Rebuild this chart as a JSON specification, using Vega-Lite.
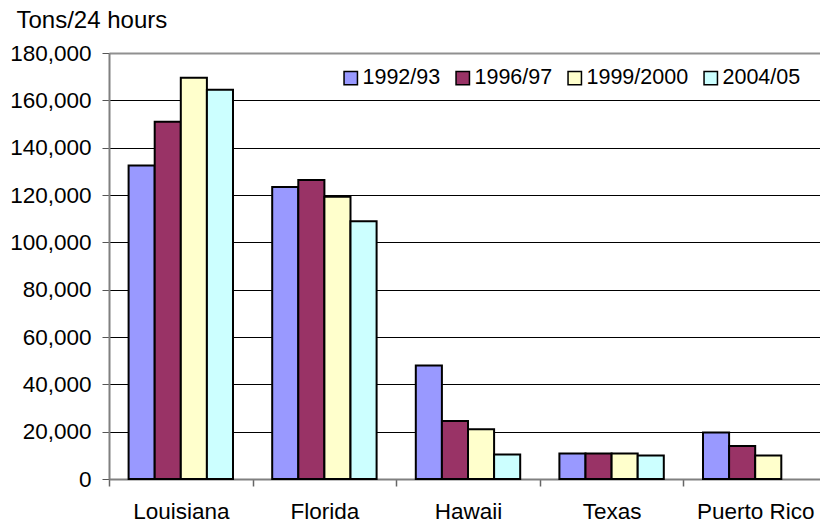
{
  "$schema": "https://vega.github.io/schema/vega-lite/v6.json",
  "autosize": {"type": "none"},
  "padding": {"left": 109, "top": 53, "right": 0, "bottom": 46},
  "width": 711,
  "height": 426,
  "background": "white",
  "config": {
    "view": {"stroke": null},
    "font": "Liberation Sans",
    "axis": {"labelFont": "Liberation Sans", "titleFont": "Liberation Sans", "labelColor": "#000", "titleColor": "#000"},
    "legend": {"labelFont": "Liberation Sans"}
  },
  "data": {
    "values": [
      {"state": "Louisiana", "season": "1992/93", "tons": 132500},
      {"state": "Louisiana", "season": "1996/97", "tons": 151000},
      {"state": "Louisiana", "season": "1999/2000", "tons": 169500},
      {"state": "Louisiana", "season": "2004/05", "tons": 164500},
      {"state": "Florida", "season": "1992/93", "tons": 123400},
      {"state": "Florida", "season": "1996/97", "tons": 126300},
      {"state": "Florida", "season": "1999/2000", "tons": 119300},
      {"state": "Florida", "season": "2004/05", "tons": 108900},
      {"state": "Hawaii", "season": "1992/93", "tons": 48000},
      {"state": "Hawaii", "season": "1996/97", "tons": 24500},
      {"state": "Hawaii", "season": "1999/2000", "tons": 21000},
      {"state": "Hawaii", "season": "2004/05", "tons": 10400},
      {"state": "Texas", "season": "1992/93", "tons": 10800},
      {"state": "Texas", "season": "1996/97", "tons": 10800},
      {"state": "Texas", "season": "1999/2000", "tons": 10800},
      {"state": "Texas", "season": "2004/05", "tons": 9900},
      {"state": "Puerto Rico", "season": "1992/93", "tons": 19600},
      {"state": "Puerto Rico", "season": "1996/97", "tons": 13900},
      {"state": "Puerto Rico", "season": "1999/2000", "tons": 9900}
    ]
  },
  "mark": {"type": "bar", "stroke": "#000", "strokeWidth": 2},
  "encoding": {
    "x": {
      "field": "state",
      "type": "nominal",
      "sort": ["Louisiana", "Florida", "Hawaii", "Texas", "Puerto Rico"],
      "scale": {"paddingInner": 0, "paddingOuter": 0, "range": [0, 718]},
      "axis": {
        "title": null,
        "labelAngle": 0,
        "labelFontSize": 22.5,
        "labelPadding": 14,
        "tickBand": "extent",
        "tickSize": 7,
        "tickColor": "#666",
        "tickWidth": 1.5,
        "domainColor": "#808080",
        "domainWidth": 2,
        "grid": false
      }
    },
    "xOffset": {
      "field": "season",
      "type": "nominal",
      "sort": ["1992/93", "1996/97", "1999/2000", "2004/05"],
      "scale": {"paddingInner": 0, "paddingOuter": 0.751}
    },
    "y": {
      "field": "tons",
      "type": "quantitative",
      "scale": {"domain": [0, 180000], "nice": false},
      "axis": {
        "title": "Tons/24 hours",
        "titleAngle": 0,
        "titleAlign": "left",
        "titleBaseline": "alphabetic",
        "titleX": -93,
        "titleY": -26,
        "titleFontSize": 24,
        "titleFontWeight": "normal",
        "values": [0, 20000, 40000, 60000, 80000, 100000, 120000, 140000, 160000, 180000],
        "format": ",.0f",
        "labelFontSize": 22.5,
        "labelPadding": 11,
        "tickSize": 7,
        "tickColor": "#555",
        "domainColor": "#808080",
        "domainWidth": 2,
        "grid": true,
        "gridColor": {"condition": {"test": "datum.value === 180000", "value": "#909090"}, "value": "#000"},
        "gridWidth": {"condition": {"test": "datum.value === 180000", "value": 2}, "value": 1}
      }
    },
    "color": {
      "field": "season",
      "type": "nominal",
      "sort": ["1992/93", "1996/97", "1999/2000", "2004/05"],
      "scale": {
        "domain": ["1992/93", "1996/97", "1999/2000", "2004/05"],
        "range": ["#9999FF", "#993366", "#FFFFCC", "#CCFFFF"]
      },
      "legend": {
        "title": null,
        "orient": "none",
        "legendX": 231,
        "legendY": 14,
        "direction": "horizontal",
        "columns": 4,
        "columnPadding": 11,
        "padding": 0,
        "symbolType": "square",
        "symbolSize": 180,
        "symbolStrokeColor": "#000",
        "symbolStrokeWidth": 1.5,
        "labelFontSize": 21.5,
        "labelOffset": 1,
        "labelColor": "#000"
      }
    }
  }
}
